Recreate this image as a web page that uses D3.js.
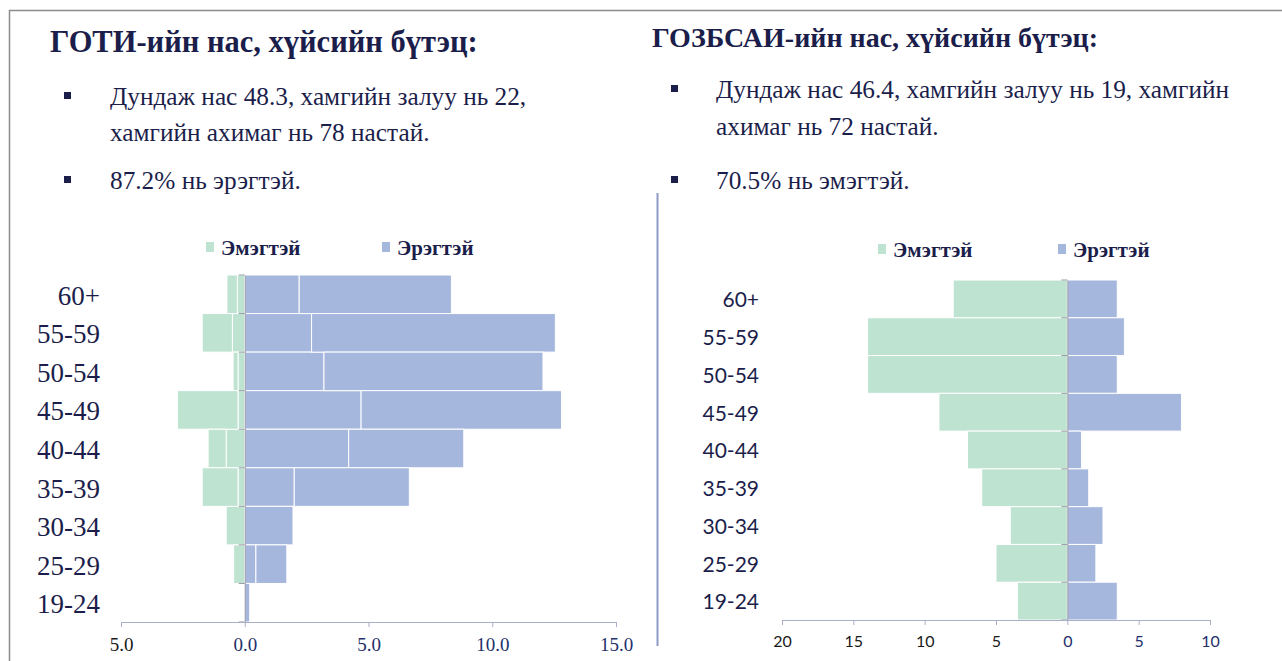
<!DOCTYPE html>
<html lang="mn">
<meta charset="utf-8">
<head>
    <script src="https://d3js.org/d3.v7.min.js"></script>
    <style>
        body { margin: 0; background: #fff; }
    </style>
</head>
<body>
<script>
// age groups, top to bottom
const ages = ["60+", "55-59", "50-54", "45-49", "40-44", "35-39", "30-34", "25-29", "19-24"];

// left chart (ГОТИ), two stacked parts per sex
const gotiFemaleA = [0.3, 0.5, 0.27, 0.27, 0.75, 0.27, 0.75, 0.45, 0];
const gotiFemaleB = [0.42, 1.22, 0.2, 2.45, 0.73, 1.45, 0, 0, 0];
const gotiMaleA = [2.2, 2.7, 3.2, 4.7, 4.2, 2.0, 1.95, 0.45, 0.2];
const gotiMaleB = [6.15, 9.85, 8.85, 8.1, 4.65, 4.65, 0, 1.25, 0];
const gotiTicks = [-5, 0, 5, 10, 15];

// right chart (ГОЗБСАИ)
const gozFemale = [8, 14, 14, 9, 7, 6, 4, 5, 3.5];
const gozMale = [3.5, 4, 3.5, 8, 1, 1.5, 2.5, 2, 3.5];
const gozTicks = [-20, -15, -10, -5, 0, 5, 10];

const navy = "#1b1e4b";
const green = "#bfe3d1";
const blue = "#a6b7de";
const axisColor = "#a9afc6";
const serif = "Liberation Serif, Times New Roman, serif";
const sans = "Lato, Open Sans, sans-serif";

var svg = d3.select("body").append("svg")
    .attr("width", 1282)
    .attr("height", 661);

// frame
svg.append("path")
    .attr("d", "M9.5,661 V10.5 H1282")
    .attr("fill", "none")
    .attr("stroke", "#8c8c8c")
    .attr("stroke-width", 1.5);

// divider
svg.append("line")
    .attr("x1", 657.5).attr("x2", 657.5)
    .attr("y1", 193).attr("y2", 646)
    .attr("stroke", "#8e9bc6")
    .attr("stroke-width", 2);

// titles and bullet text
function header(x, title, titleY, titleSize, lines, bx) {
    svg.append("text")
        .attr("x", x).attr("y", titleY)
        .style("font-family", serif)
        .attr("font-weight", "bold")
        .attr("font-size", titleSize)
        .attr("fill", navy)
        .text(title);
    lines.forEach(function(l) {
        if (l.bullet) {
            svg.append("rect")
                .attr("x", bx).attr("y", l.y - 13)
                .attr("width", 7).attr("height", 7)
                .attr("fill", navy);
        }
        svg.append("text")
            .attr("x", l.x).attr("y", l.y)
            .style("font-family", serif)
            .attr("font-size", 25.3)
            .attr("fill", navy)
            .text(l.text);
    });
}

header(50, "ГОТИ-ийн нас, хүйсийн бүтэц:", 52, 30.5, [
    {x: 110, y: 105, text: "Дундаж нас 48.3, хамгийн залуу нь 22,", bullet: true},
    {x: 110, y: 141, text: "хамгийн ахимаг нь 78 настай."},
    {x: 110, y: 189, text: "87.2% нь эрэгтэй.", bullet: true}
], 64);

header(652, "ГОЗБСАИ-ийн нас, хүйсийн бүтэц:", 47, 28, [
    {x: 716, y: 98, text: "Дундаж нас 46.4, хамгийн залуу нь 19, хамгийн", bullet: true},
    {x: 716, y: 135, text: "ахимаг нь 72 настай."},
    {x: 716, y: 189, text: "70.5% нь эмэгтэй.", bullet: true}
], 671);

// legend
function legend(items) {
    items.forEach(function(d) {
        svg.append("rect")
            .attr("x", d.x).attr("y", d.y - 6)
            .attr("width", 8).attr("height", 10)
            .attr("fill", d.color);
        svg.append("text")
            .attr("x", d.x + 15).attr("y", d.y + 7)
            .style("font-family", serif)
            .attr("font-weight", "bold")
            .attr("font-size", 21)
            .attr("fill", navy)
            .text(d.label);
    });
}
legend([
    {x: 206, y: 248, color: green, label: "Эмэгтэй"},
    {x: 382, y: 248, color: blue, label: "Эрэгтэй"}
]);
legend([
    {x: 878, y: 250, color: green, label: "Эмэгтэй"},
    {x: 1058, y: 250, color: blue, label: "Эрэгтэй"}
]);

// one pyramid
function pyramid(opt) {
    var x = d3.scaleLinear().domain(opt.domain).range(opt.xRange);
    var y = d3.scaleBand().domain(ages).range(opt.yRange).paddingInner(0);

    var rows = ages.map(function(a, i) {
        var r = {age: a};
        opt.keys.forEach(function(k, j) { r[k] = opt.sign[j] * opt.series[j][i]; });
        return r;
    });
    var stack = d3.stack().keys(opt.keys).offset(d3.stackOffsetDiverging)(rows);

    var g = svg.append("g");
    g.selectAll("g.layer")
        .data(stack)
        .enter().append("g")
        .attr("fill", function(d, i) { return opt.colors[i]; })
        .selectAll("rect")
        .data(function(d) { return d; })
        .enter().append("rect")
        .filter(function(d) { return d[1] !== d[0]; })
        .attr("x", function(d) { return x(Math.min(d[0], d[1])); })
        .attr("y", function(d) { return y(d.data.age); })
        .attr("width", function(d) { return Math.abs(x(d[1]) - x(d[0])); })
        .attr("height", y.bandwidth())
        .attr("stroke", "#fff")
        .attr("stroke-width", 1);

    // category axis at zero
    var ya = g.append("g")
        .attr("transform", "translate(" + x(0) + ",0)")
        .call(d3.axisLeft(y).tickSize(0).tickFormat(""));
    ya.select(".domain").attr("stroke", "#9a9aa6");
    var bounds = ages.map(function(a) { return y(a); }).concat([opt.yRange[1]]);
    g.selectAll("line.yt")
        .data(bounds)
        .enter().append("line")
        .attr("x1", x(0) - 6).attr("x2", x(0))
        .attr("y1", function(d) { return d; })
        .attr("y2", function(d) { return d; })
        .attr("stroke", "#9a9aa6");

    // age labels
    g.selectAll("text.age")
        .data(ages)
        .enter().append("text")
        .attr("x", opt.labelX)
        .attr("y", function(d) { return y(d) + y.bandwidth() / 2 + 1; })
        .attr("dy", "0.35em")
        .attr("text-anchor", "end")
        .style("font-family", opt.labelFont)
        .attr("font-size", opt.labelSize)
        .attr("fill", navy)
        .text(function(d) { return d; });

    // value axis
    var xa = g.append("g")
        .attr("transform", "translate(0," + opt.yRange[1] + ")")
        .call(d3.axisBottom(x).tickValues(opt.ticks).tickSize(5).tickSizeOuter(0)
            .tickFormat(function(d) { return opt.fmt(Math.abs(d)); }));
    xa.select(".domain").attr("stroke", axisColor);
    xa.selectAll(".tick line").attr("stroke", axisColor);
    xa.selectAll(".tick text")
        .attr("y", opt.tickY)
        .style("font-family", opt.tickFont)
        .attr("font-size", opt.tickSize)
        .attr("fill", function(d) { return d < 0 ? "#1a1a1a" : "#24306a"; });
}

pyramid({
    domain: [-5, 15], xRange: [121, 616], yRange: [275, 622],
    keys: ["mA", "mB", "fA", "fB"],
    series: [gotiMaleA, gotiMaleB, gotiFemaleA, gotiFemaleB],
    sign: [1, 1, -1, -1],
    colors: [blue, blue, green, green],
    ticks: gotiTicks, fmt: d3.format(".1f"),
    labelX: 100, labelFont: serif, labelSize: 27,
    tickFont: serif, tickSize: 19, tickY: 16
});

pyramid({
    domain: [-20, 10], xRange: [782, 1210], yRange: [280, 620],
    keys: ["m", "f"],
    series: [gozMale, gozFemale],
    sign: [1, -1],
    colors: [blue, green],
    ticks: gozTicks, fmt: d3.format("d"),
    labelX: 759, labelFont: sans, labelSize: 21,
    tickFont: sans, tickSize: 16, tickY: 16
});
</script>
</body>
</html>
